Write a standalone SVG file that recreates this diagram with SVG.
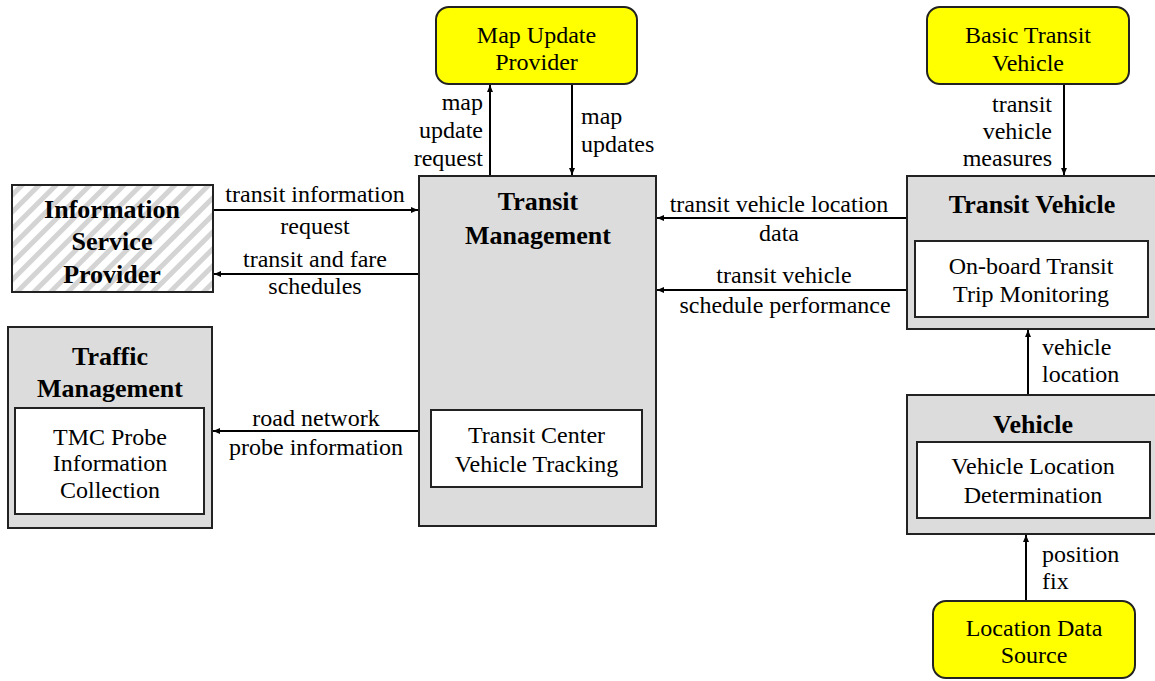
<svg xmlns="http://www.w3.org/2000/svg" width="1155" height="681" viewBox="0 0 1155 681">
<style>
text{font-family:"Liberation Serif","Times New Roman",serif;fill:#000}
.t{font-size:24px}
.b{font-size:26px;font-weight:bold}
.m{text-anchor:middle}
.e{text-anchor:end}
.box{fill:#dcdcdc;stroke:#222;stroke-width:2}
.in{fill:#fff;stroke:#222;stroke-width:2}
.ext{fill:#ffff00;stroke:#222;stroke-width:2}
.c{stroke:#000;stroke-width:2;fill:none;marker-end:url(#ah)}
</style>
<defs>
<marker id="ah" markerUnits="userSpaceOnUse" markerWidth="7" markerHeight="6" refX="7" refY="3" orient="auto">
<path d="M0,0 L7,3 L0,6 Z" fill="#000"/>
</marker>
<pattern id="hatch" patternUnits="userSpaceOnUse" width="12" height="12" patternTransform="rotate(45)">
<rect width="12" height="12" fill="#fff"/>
<rect width="5" height="12" fill="#d4d4d4"/>
</pattern>
</defs>
<g id="connectors">
<line class="c" x1="490" y1="176" x2="490" y2="85"/>
<line class="c" x1="572" y1="84" x2="572" y2="175"/>
<line class="c" x1="1064" y1="84" x2="1064" y2="175"/>
<line class="c" x1="213" y1="210" x2="418" y2="210"/>
<line class="c" x1="419" y1="274" x2="214" y2="274"/>
<line class="c" x1="419" y1="431" x2="213" y2="431"/>
<line class="c" x1="907" y1="218" x2="657" y2="218"/>
<line class="c" x1="907" y1="290" x2="657" y2="290"/>
<line class="c" x1="1028" y1="395" x2="1028" y2="330"/>
<line class="c" x1="1026" y1="601" x2="1026" y2="535"/>
<text class="t e" x="483" y="110">map</text>
<text class="t e" x="483" y="138">update</text>
<text class="t e" x="483" y="166">request</text>
<text class="t" x="581" y="124">map</text>
<text class="t" x="581" y="152">updates</text>
<text class="t e" x="1052" y="112">transit</text>
<text class="t e" x="1052" y="139">vehicle</text>
<text class="t e" x="1052" y="166">measures</text>
<text class="t m" x="315" y="202">transit information</text>
<text class="t m" x="315" y="234">request</text>
<text class="t m" x="315" y="267">transit and fare</text>
<text class="t m" x="315" y="294">schedules</text>
<text class="t m" x="316" y="426">road network</text>
<text class="t m" x="316" y="455">probe information</text>
<text class="t m" x="779" y="212">transit vehicle location</text>
<text class="t m" x="779" y="241">data</text>
<text class="t m" x="784" y="283">transit vehicle</text>
<text class="t m" x="785" y="313">schedule performance</text>
<text class="t" x="1042" y="355">vehicle</text>
<text class="t" x="1042" y="382">location</text>
<text class="t" x="1042" y="562">position</text>
<text class="t" x="1042" y="589">fix</text>
</g>
<g id="map-update-provider">
<rect class="ext" x="436" y="7" width="201" height="77" rx="13"/>
<text class="t m" x="536.5" y="43">Map Update</text>
<text class="t m" x="536.5" y="70">Provider</text>
</g>
<g id="basic-transit-vehicle">
<rect class="ext" x="927" y="7" width="202" height="77" rx="13"/>
<text class="t m" x="1028" y="43">Basic Transit</text>
<text class="t m" x="1028" y="71">Vehicle</text>
</g>
<g id="information-service-provider">
<rect x="12" y="185" width="201" height="107" fill="url(#hatch)" stroke="#222" stroke-width="2"/>
<text class="b m" x="112" y="218">Information</text>
<text class="b m" x="112" y="250">Service</text>
<text class="b m" x="112" y="283">Provider</text>
</g>
<g id="transit-management">
<rect class="box" x="419" y="176" width="237" height="350"/>
<text class="b m" x="538" y="210">Transit</text>
<text class="b m" x="538" y="244">Management</text>
<rect class="in" x="431" y="410" width="211" height="77"/>
<text class="t m" x="536.5" y="443">Transit Center</text>
<text class="t m" x="536.5" y="472">Vehicle Tracking</text>
</g>
<g id="traffic-management">
<rect class="box" x="8" y="327" width="204" height="201"/>
<text class="b m" x="110" y="365">Traffic</text>
<text class="b m" x="110" y="397">Management</text>
<rect class="in" x="15" y="408" width="189" height="106"/>
<text class="t m" x="110" y="445">TMC Probe</text>
<text class="t m" x="110" y="471">Information</text>
<text class="t m" x="110" y="498">Collection</text>
</g>
<g id="transit-vehicle">
<rect class="box" x="907" y="176" width="254" height="153"/>
<text class="b m" x="1032" y="213">Transit Vehicle</text>
<rect class="in" x="915" y="241" width="233" height="76"/>
<text class="t m" x="1031" y="274">On-board Transit</text>
<text class="t m" x="1031" y="302">Trip Monitoring</text>
</g>
<g id="vehicle">
<rect class="box" x="907" y="395" width="254" height="139"/>
<text class="b m" x="1033" y="433">Vehicle</text>
<rect class="in" x="917" y="442" width="233" height="76"/>
<text class="t m" x="1033" y="474">Vehicle Location</text>
<text class="t m" x="1033" y="503">Determination</text>
</g>
<g id="location-data-source">
<rect class="ext" x="933" y="601" width="202" height="77" rx="13"/>
<text class="t m" x="1034" y="636">Location Data</text>
<text class="t m" x="1034" y="663">Source</text>
</g>
</svg>
